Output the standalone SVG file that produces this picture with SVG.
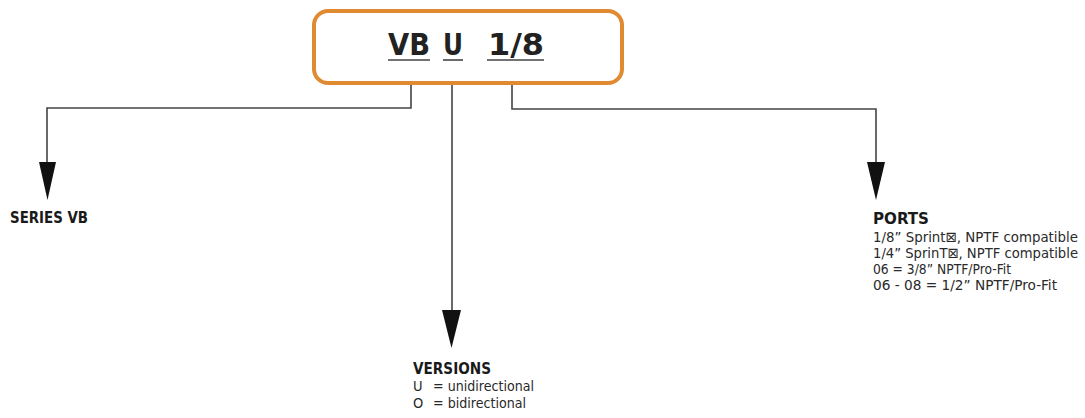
<svg xmlns="http://www.w3.org/2000/svg" width="1085" height="418" viewBox="0 0 1085 418">
<defs>
<style>
.t{font-family:"DejaVu Sans Condensed","DejaVu Sans",sans-serif;fill:#2a2a2a}
.b{font-weight:bold;fill:#1a1a1a}
.h{font-size:31px;font-weight:bold;fill:#222}
.p{font-size:14.5px}
.ln{fill:none;stroke:#444;stroke-width:1.6}
.ul{stroke:#444;stroke-width:1.6}
.ah{fill:#111}
</style>
</defs>
<rect width="1085" height="418" fill="#fff"/>
<g id="code">
<rect x="314" y="11" width="308" height="72" rx="14" fill="#fff" stroke="#e08b32" stroke-width="4"/>
<text class="t h" x="388" y="55" textLength="42" lengthAdjust="spacingAndGlyphs">VB</text>
<text class="t h" x="443" y="55" textLength="20" lengthAdjust="spacingAndGlyphs">U</text>
<text class="t h" x="488" y="55" textLength="56" lengthAdjust="spacingAndGlyphs">1/8</text>
<line class="ul" x1="388" y1="60" x2="430" y2="60"/>
<line class="ul" x1="443" y1="60" x2="463" y2="60"/>
<line class="ul" x1="487" y1="60" x2="544" y2="60"/>
</g>
<g id="connectors">
<polyline class="ln" points="411,85 411,108 47,108 47,162"/>
<path class="ah" d="M39,162 L56,162 L47.5,200 Z"/>
<polyline class="ln" points="452,85 452,310"/>
<path class="ah" d="M442,310 L461,310 L451.5,348 Z"/>
<polyline class="ln" points="512,85 512,109 876,109 876,162"/>
<path class="ah" d="M867,162 L885,162 L876,200 Z"/>
</g>
<g id="series">
<text class="t b" x="10" y="223" font-size="16" textLength="78" lengthAdjust="spacingAndGlyphs">SERIES VB</text>
</g>
<g id="versions">
<text class="t b" x="413" y="374" font-size="16" textLength="78" lengthAdjust="spacingAndGlyphs">VERSIONS</text>
<text class="t p" x="413" y="391">U</text>
<text class="t p" x="433" y="391" textLength="101" lengthAdjust="spacingAndGlyphs">= unidirectional</text>
<text class="t p" x="413" y="408">O</text>
<text class="t p" x="433" y="408" textLength="93" lengthAdjust="spacingAndGlyphs">= bidirectional</text>
</g>
<g id="ports">
<text class="t b" x="873" y="224" font-size="16" textLength="56" lengthAdjust="spacingAndGlyphs">PORTS</text>
<text class="t p" x="873" y="242" textLength="205" lengthAdjust="spacingAndGlyphs">1/8” Sprint⊠, NPTF compatible</text>
<text class="t p" x="873" y="258" textLength="205" lengthAdjust="spacingAndGlyphs">1/4” SprinT⊠, NPTF compatible</text>
<text class="t p" x="873" y="274" textLength="138" lengthAdjust="spacingAndGlyphs">06 = 3/8” NPTF/Pro-Fit</text>
<text class="t p" x="873" y="290" textLength="184" lengthAdjust="spacingAndGlyphs">06 - 08 = 1/2” NPTF/Pro-Fit</text>
</g>
</svg>
